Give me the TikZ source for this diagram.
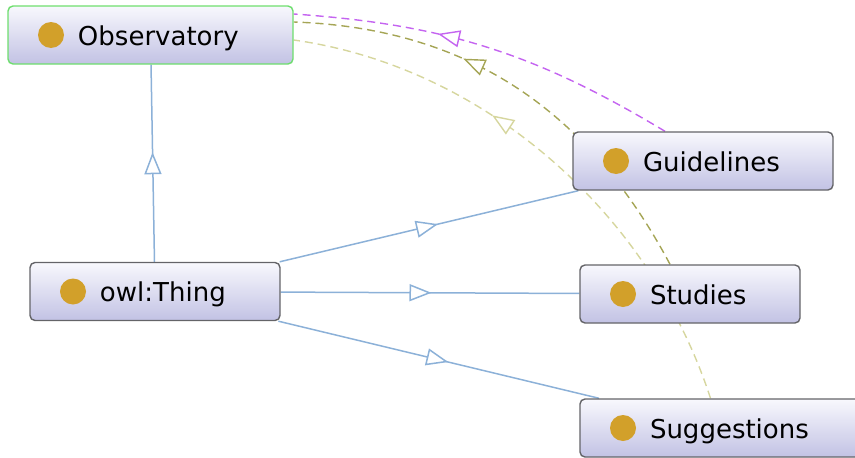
\documentclass[tikz,border=0pt]{standalone}
\usepackage{fontspec}
\setmainfont{DejaVu Sans}
\usetikzlibrary{arrows.meta,decorations.markings,backgrounds}

\definecolor{boxline}{RGB}{100,100,104}
\definecolor{boxtop}{RGB}{248,248,253}
\definecolor{boxbot}{RGB}{194,194,228}
\definecolor{obsgreen}{RGB}{110,222,110}
\definecolor{dotc}{RGB}{210,160,42}
\definecolor{subblue}{RGB}{140,177,216}
\definecolor{propviolet}{RGB}{196,100,240}
\definecolor{propolive}{RGB}{165,165,85}
\definecolor{proplight}{RGB}{214,214,158}

% label text starts 70pt in from the left edge of a class box
\newcommand{\clslabel}[2]{\makebox[#1][l]{\hspace{70pt}#2}}

\begin{document}
\begin{tikzpicture}[x=1pt,y=1pt,
  cls/.style={rectangle, rounded corners=5pt, draw=boxline, line width=1.4pt,
    top color=boxtop, bottom color=boxbot,
    minimum height=58pt, inner xsep=0pt, inner ysep=0pt,
    text height=25pt, text depth=5pt,
    font=\fontsize{26}{30}\selectfont,
    path picture={\fill[dotc] ([xshift=43pt]path picture bounding box.west) circle (13pt);}},
  midtip/.style={postaction={decorate},
    decoration={markings, mark=at position #1 with
      {\arrow{Triangle[fill=white,length=22pt,width=17pt]}}}},
  subof/.style={draw=subblue, line width=1.5pt, midtip=#1},
  prop/.style={line width=1.4pt, dash pattern=on 8pt off 5pt, midtip=0.63}
]
\useasboundingbox (0,0) rectangle (855,-458);

% class boxes
\node[cls, draw=obsgreen] (obs)  at (150.5,-35)  {\clslabel{285pt}{Observatory}};
\node[cls]                (guid) at (703,-161)   {\clslabel{260pt}{Guidelines}};
\node[cls]                (owl)  at (155,-291.5) {\clslabel{250pt}{owl:Thing}};
\node[cls]                (stud) at (690,-294)   {\clslabel{220pt}{Studies}};
\node[cls]                (sugg) at (722.5,-428) {\clslabel{285pt}{Suggestions}};

\begin{pgfonlayer}{background}
  % subclass links
  \draw[subof=0.556] (owl) -- (obs);
  \draw[subof=0.53]  (owl) -- (guid);
  \draw[subof=0.505] (owl) -- (stud);
  \draw[subof=0.53]  (owl) -- (sugg);
  % property links into Observatory
  \draw[prop, draw=propviolet] ([xshift=-38pt]guid.north) to[out=149, in=-4] ([yshift=21pt]obs.east);
  \draw[prop, draw=propolive]  ([xshift=-20pt]stud.north) to[out=118, in=-2] ([yshift=13pt]obs.east);
  \draw[prop, draw=proplight]  ([xshift=-12pt]sugg.north) to[out=108, in=-8, looseness=0.9] ([yshift=-5pt]obs.east);
\end{pgfonlayer}
\end{tikzpicture}
\end{document}
